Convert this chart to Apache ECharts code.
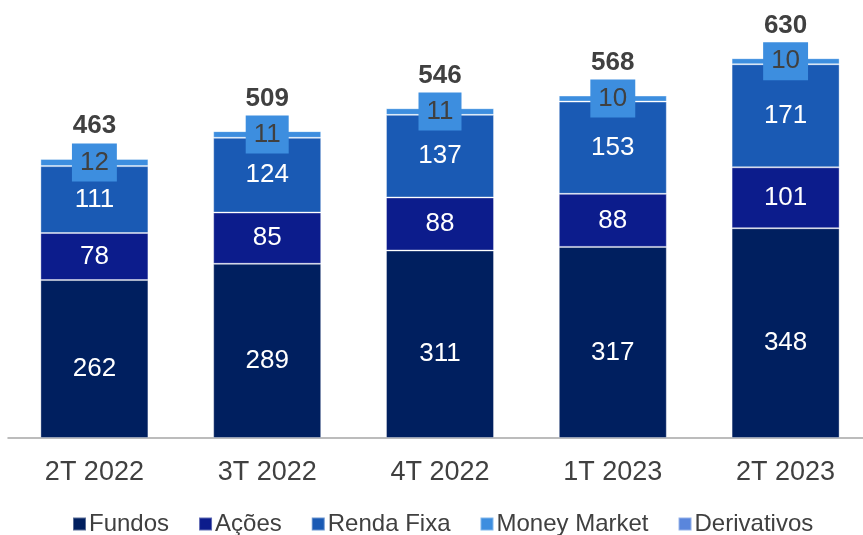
<!DOCTYPE html>
<html>
<head>
<meta charset="utf-8">
<script src="https://cdn.jsdelivr.net/npm/echarts@6/dist/echarts.min.js"></script>
<style>
  html, body { margin: 0; padding: 0; background: #fff; overflow: hidden; }
  #chart { width: 872px; height: 535px; }
</style>
</head>
<body>
<div id="chart"></div>
<script>
const categories = ["2T 2022", "3T 2022", "4T 2022", "1T 2023", "2T 2023"]
const fundos = [262, 289, 311, 317, 348]
const acoes = [78, 85, 88, 88, 101]
const rendaFixa = [111, 124, 137, 153, 171]
const moneyMarket = [12, 11, 11, 10, 10]
const derivativos = [1, 1, 1, 1, 1]
const totals = [463, 509, 546, 568, 630]

const textColor = "#404040"
const font = "Liberation Sans, Arial, sans-serif"
const border = { borderColor: "rgba(255,255,255,0.35)", borderWidth: 1 }

function segment(name, data, color, label) {
    return {
        name: name,
        type: "bar",
        stack: "total",
        barWidth: 108,
        data: data,
        itemStyle: Object.assign({ color: color }, border),
        label: label,
    }
}

const whiteLabel = {
    show: true,
    position: "inside",
    color: "#fff",
    fontSize: 26,
    fontFamily: font,
}

// the plot runs a little past the right edge of the 863px window
const chart = echarts.init(document.getElementById("chart"), null, { renderer: "canvas" })
chart.setOption({
    animation: false,
    grid: { left: 8, right: 0, top: 16, bottom: 97 },
    legend: {
        data: ["Fundos", "Ações", "Renda Fixa", "Money Market", "Derivativos"],
        top: 507,
        left: 67,
        itemWidth: 13,
        itemHeight: 13,
        itemGap: 29,
        icon: "rect",
        textStyle: { color: textColor, fontSize: 24, fontFamily: font, padding: [0, 0, 0, -2] },
    },
    xAxis: {
        type: "category",
        data: categories,
        axisTick: { show: false },
        axisLine: { lineStyle: { color: "#A6A6A6", width: 1.5 } },
        axisLabel: { color: textColor, fontSize: 27, fontFamily: font, margin: 21 },
    },
    yAxis: {
        type: "value",
        min: 0,
        max: 700,
        show: false,
        splitLine: { show: false },
    },
    series: [
        segment("Fundos", fundos, "#001F5F", Object.assign({ offset: [0, 10] }, whiteLabel)),
        segment("Ações", acoes, "#0C1C8C", whiteLabel),
        segment("Renda Fixa", rendaFixa, "#1A5AB4", whiteLabel),
        segment("Money Market", moneyMarket, "#3D8EDF", {
            show: true,
            position: "inside",
            color: textColor,
            fontSize: 26,
            fontFamily: font,
            backgroundColor: "#3D8EDF",
            padding: [6, 8],
        }),
        segment("Derivativos", derivativos, "#5A86DC", { show: false }),
        {
            name: "Total",
            type: "bar",
            stack: "total",
            barWidth: 108,
            data: totals.map(() => 0),
            itemStyle: { color: "transparent" },
            label: {
                show: true,
                position: "top",
                distance: 19,
                color: textColor,
                fontSize: 26,
                fontWeight: "bold",
                fontFamily: font,
                formatter: (p) => totals[p.dataIndex],
            },
        },
    ],
})
</script>
</body>
</html>
